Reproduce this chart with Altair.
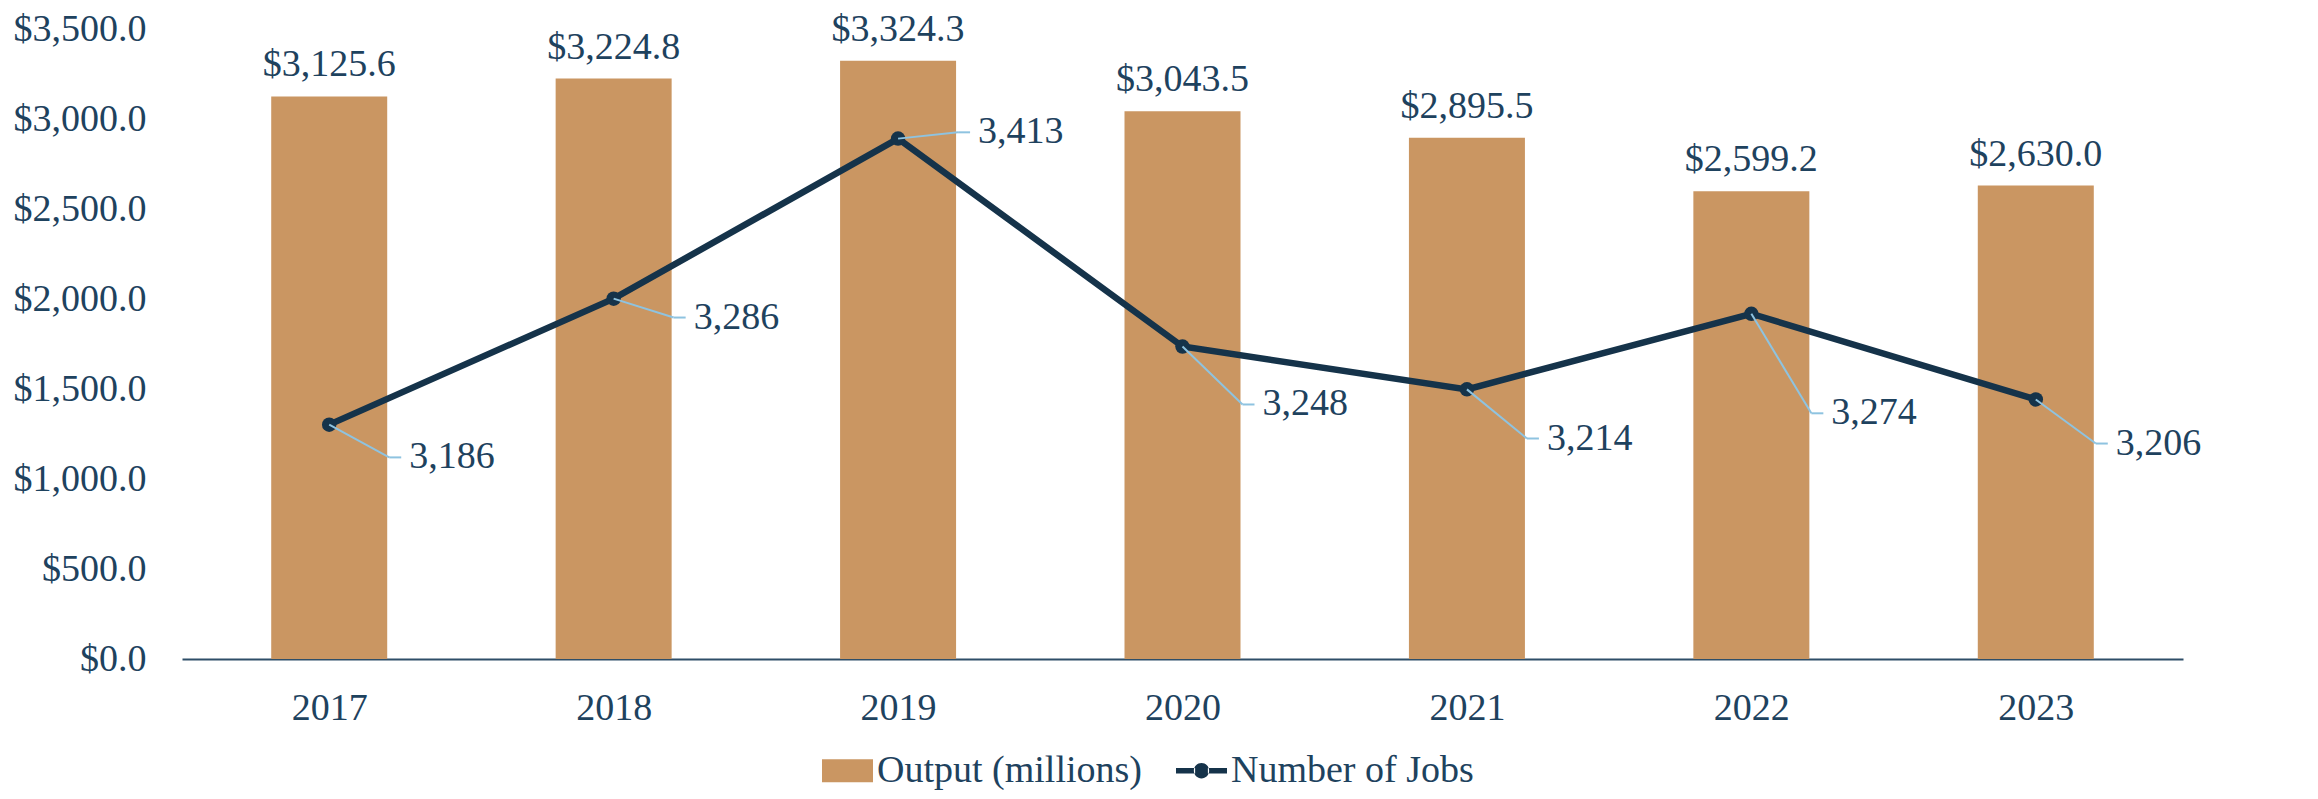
import altair as alt
import pandas as pd

# ---- data ----
years = [2017, 2018, 2019, 2020, 2021, 2022, 2023]
output_millions = [3125.6, 3224.8, 3324.3, 3043.5, 2895.5, 2599.2, 2630.0]
number_of_jobs = [3186, 3286, 3413, 3248, 3214, 3274, 3206]
# where each jobs label sits (in jobs units, on the right axis)
jobs_label_at = [3160, 3271, 3418, 3202, 3175, 3195, 3171]

series_names = ["Output (millions)", "Number of Jobs"]

df = pd.DataFrame({
    "year": years,
    "output": output_millions,
    "jobs": number_of_jobs,
    "lab": jobs_label_at,
    "series": ["Number of Jobs"] * len(years),
})

FONT = "Liberation Serif"
TXT = "#1E425E"
NAVY = "#15334A"
CORK = "#CA9662"
LEADER = "#8EC3E0"
FS = 38

x_enc = alt.X(
    "year:Q",
    scale=alt.Scale(domain=[2016.5, 2023.5], nice=False, zero=False),
    axis=alt.Axis(
        values=years, format="d", title=None, grid=False, ticks=False,
        domain=True, domainColor="#2E4E68", domainWidth=2,
        labelPadding=30, labelFontSize=FS, labelColor=TXT, labelFont=FONT,
    ),
)

y_left = alt.Y(
    "output:Q",
    scale=alt.Scale(domain=[0, 3500], nice=False),
    axis=alt.Axis(
        values=[0, 500, 1000, 1500, 2000, 2500, 3000, 3500], format="$,.1f",
        title=None, grid=False, ticks=False, domain=False, labelPadding=36,
        labelFontSize=FS, labelColor=TXT, labelFont=FONT, orient="left",
    ),
)

jobs_scale = alt.Scale(domain=[3000, 3500], nice=False, zero=False)

bars = alt.Chart(df).mark_bar(size=116, color=CORK).encode(x=x_enc, y=y_left)
bar_text = alt.Chart(df).mark_text(
    baseline="middle", dy=-31, fontSize=FS, color=TXT, font=FONT
).encode(x=x_enc, y=y_left, text=alt.Text("output:Q", format="$,.1f"))

left = alt.layer(bars, bar_text)

y_right = alt.Y(
    "jobs:Q",
    scale=jobs_scale,
    axis=alt.Axis(
        values=[3000, 3100, 3200, 3300, 3400, 3500], format=",d",
        title=None, grid=False, ticks=False, domain=False, labelPadding=35,
        labelFontSize=FS, labelColor=TXT, labelFont=FONT, orient="right",
    ),
)

line = alt.Chart(df).mark_line(color=NAVY, strokeWidth=6.5).encode(x=x_enc, y=y_right)

rect_path = "M-1,-0.45 L1,-0.45 L1,0.45 L-1,0.45 Z"
line_path = ("M-1,-0.11 L-0.25,-0.11 L-0.25,0.11 L-1,0.11 Z "
             "M0.25,-0.11 L1,-0.11 L1,0.11 L0.25,0.11 Z "
             "M-0.3,0 A0.3,0.3 0 1,0 0.3,0 A0.3,0.3 0 1,0 -0.3,0 Z")

legend_def = alt.Legend(
    title=None, orient="none", direction="horizontal",
    legendX=640, legendY=716,
    labelFontSize=FS, labelColor=TXT, labelFont=FONT, labelLimit=0,
    symbolSize=2601, symbolStrokeWidth=0, labelOffset=4,
    columnPadding=34, padding=0,
)

# carries the legend (its small glyphs sit under the round markers)
legend_points = alt.Chart(df).mark_point(filled=True, size=160, opacity=1).encode(
    x=x_enc,
    y=y_right,
    color=alt.Color(
        "series:N",
        scale=alt.Scale(domain=series_names, range=[CORK, NAVY]),
        legend=legend_def,
    ),
    shape=alt.Shape(
        "series:N",
        scale=alt.Scale(domain=series_names, range=[rect_path, line_path]),
        legend=legend_def,
    ),
)

markers = alt.Chart(df).mark_circle(size=210, color=NAVY, opacity=1).encode(
    x=x_enc, y=y_right
)

leader_diag = alt.Chart(df).mark_rule(color=LEADER, strokeWidth=2, x2Offset=60).encode(
    x=x_enc, x2="year:Q", y=y_right, y2="lab:Q"
)
leader_tick = alt.Chart(df).mark_rule(
    color=LEADER, strokeWidth=2, xOffset=60, x2Offset=72
).encode(
    x=x_enc, x2="year:Q", y=alt.Y("lab:Q", scale=jobs_scale, axis=None), y2="lab:Q"
)
jobs_text = alt.Chart(df).mark_text(
    align="left", baseline="middle", dx=80, fontSize=FS, color=TXT, font=FONT
).encode(
    x=x_enc, y=alt.Y("lab:Q", scale=jobs_scale, axis=None),
    text=alt.Text("jobs:Q", format=",d"),
)

right = alt.layer(line, legend_points, markers, leader_diag, leader_tick, jobs_text)

chart = alt.layer(left, right).resolve_scale(y="independent").properties(
    width=2001, height=630,
    padding={"left": 5, "top": 2, "right": 5, "bottom": 0},
).configure(font=FONT).configure_view(stroke=None)

chart.save("out.html", embed_options={"renderer": "svg", "actions": False})
